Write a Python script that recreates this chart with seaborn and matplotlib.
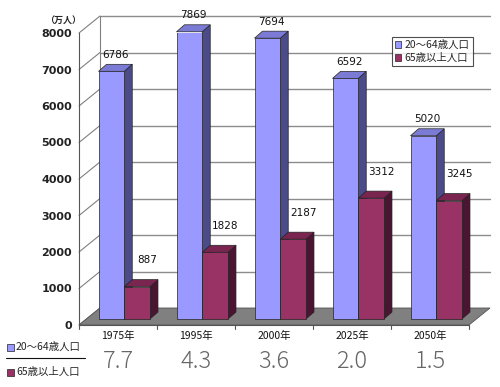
import pandas as pd
import matplotlib.pyplot as plt
import seaborn as sns
from matplotlib.patches import Polygon, Rectangle
from matplotlib.lines import Line2D

# data
years = ["1975年", "1995年", "2000年", "2025年", "2050年"]
working = [6786, 7869, 7694, 6592, 5020]     # 20〜64歳人口 (万人)
elderly = [887, 1828, 2187, 3312, 3245]      # 65歳以上人口 (万人)
ratios = ["7.7", "4.3", "3.6", "2.0", "1.5"]
series = ["20〜64歳人口", "65歳以上人口"]

df = pd.DataFrame({
    "年": years * 2,
    "人口": working + elderly,
    "区分": [series[0]] * len(years) + [series[1]] * len(years),
})

front = {series[0]: "#9999FF", series[1]: "#993366"}
side = {series[0]: "#4B4B8A", series[1]: "#4A1530"}
top = {series[0]: "#7B7BD6", series[1]: "#7A2450"}

W, H = 500, 387
fig = plt.figure(figsize=(5, 3.87), dpi=100)
sns.set_style("white")
plt.rcParams["font.family"] = ["DejaVu Sans", "Noto Sans CJK JP"]
jp = ["Noto Sans CJK JP", "DejaVu Sans"]

ax = fig.add_axes([79 / W, 62 / H, 390 / W, 292 / H])
sns.barplot(data=df, x="年", y="人口", hue="区分", palette=front,
            saturation=1, width=0.66, edgecolor="#222222", linewidth=0.5,
            ax=ax, legend=False, zorder=3)
ax.set_xlim(-0.5, 4.5)
ax.set_ylim(0, 8000)

px = 5 / 390          # data x per pixel
py = 8000 / 292       # data y per pixel
wdx, wdy = 21 * px, 17 * py    # wall depth
bdx, bdy = 8 * px, 7 * py      # bar depth

# back wall grid and left wall
ticks = range(0, 8001, 1000)
for t in ticks:
    ax.add_line(Line2D([-0.5, -0.5 + wdx], [t, t + wdy], color="#808080",
                       lw=0.8, clip_on=False, zorder=1))
    if t > 0:
        ax.add_line(Line2D([-0.5 + wdx, 4.5 + wdx], [t + wdy, t + wdy],
                           color="#8c8c8c", lw=1.0, clip_on=False, zorder=1))
ax.add_line(Line2D([-0.5 + wdx] * 2, [wdy, 8000 + wdy], color="#808080",
                   lw=0.8, clip_on=False, zorder=1))
# floor
ax.add_patch(Polygon([(-0.5, 0), (4.5, 0), (4.5 + wdx, wdy), (-0.5 + wdx, wdy)],
                     closed=True, facecolor="#808080", edgecolor="#555555",
                     lw=0.6, clip_on=False, zorder=2))

# bars: shift back into the box and add side/top faces
colors_seq = [series[0]] * len(years) + [series[1]] * len(years)
for p, s in zip(ax.patches[:len(colors_seq)], colors_seq):
    p.set_x(p.get_x() + 0.08)
    p.set_y(p.get_y() + 6 * py)
    p.set_zorder(3 if s == series[0] else 5)
    x0, x1 = p.get_x(), p.get_x() + p.get_width()
    y0, y1 = p.get_y(), p.get_y() + p.get_height()
    z = p.get_zorder() - 0.5
    ax.add_patch(Polygon([(x1, y0), (x1 + bdx, y0 + bdy), (x1 + bdx, y1 + bdy), (x1, y1)],
                         facecolor=side[s], edgecolor="#222222", lw=0.5,
                         clip_on=False, zorder=z))
    ax.add_patch(Polygon([(x0, y1), (x1, y1), (x1 + bdx, y1 + bdy), (x0 + bdx, y1 + bdy)],
                         facecolor=top[s], edgecolor="#222222", lw=0.5,
                         clip_on=False, zorder=z))
    off = 480 if s == series[0] else 750
    shift = 4 * px if s == series[0] else 10 * px
    ax.text((x0 + x1) / 2 + shift, p.get_height() + off, f"{p.get_height():.0f}",
            ha="center", va="bottom", fontsize=7.5, color="#111111", zorder=8)

# axes styling
for sp in ["top", "right", "bottom"]:
    ax.spines[sp].set_visible(False)
ax.spines["left"].set_color("#555555")
ax.add_line(Line2D([-0.5, 4.5], [0, 0], color="#555555", lw=0.8,
                   clip_on=False, zorder=2.5))
for k in range(6):
    ax.add_line(Line2D([-0.5 + k, -0.5 + k], [0, -4 * py], color="#555555",
                       lw=0.8, clip_on=False))
ax.set_yticks(list(ticks))
ax.set_yticklabels([str(t) for t in ticks], fontsize=8, fontweight="bold",
                   color="#222222")
ax.tick_params(axis="y", length=3, width=0.8, color="#555555", pad=2)
ax.tick_params(axis="x", length=0, pad=4)
ax.set_xticks(range(len(years)))
ax.set_xticklabels(years, fontsize=7.5, family=jp, color="#111111")
ax.set_xlabel("")
ax.set_ylabel("")
ax.grid(False)

fig.text(45 / W, 1 - 20 / H, "（万人）", fontsize=6.5, fontweight="bold",
         family=jp, va="center", ha="left")

# legend
handles = [Rectangle((0, 0), 1, 1, facecolor=front[s], edgecolor="#222222", lw=0.5)
           for s in series]
leg = fig.legend(handles, series, loc="upper left",
                 bbox_to_anchor=(392 / W, 1 - 37 / H), prop={"family": jp, "size": 7.5},
                 frameon=True, fancybox=False, edgecolor="#222222",
                 handlelength=0.6, handleheight=0.6, handletextpad=0.3,
                 borderpad=0.3, labelspacing=0.25, borderaxespad=0)
leg.get_frame().set_linewidth(0.8)

# ratio row below the chart
for i, r in enumerate(ratios):
    xf = (79 + 39 + 78 * i) / W
    fig.text(xf, 1 - 361 / H, r, fontsize=17, color="#666666", ha="center",
             va="center", fontweight="light", family=jp)
for yy, s in [(347, series[0]), (372, series[1])]:
    fig.add_artist(Rectangle((7 / W, 1 - (yy + 3.5) / H), 7 / W, 7 / H,
                             facecolor=front[s], edgecolor="#222222", lw=0.5))
    fig.text(16 / W, 1 - yy / H, s, fontsize=7.5, va="center", family=jp)
fig.add_artist(Line2D([6 / W, 85 / W], [1 - 358 / H] * 2, color="#111111", lw=0.8))

fig.savefig("out.png", dpi=100)
